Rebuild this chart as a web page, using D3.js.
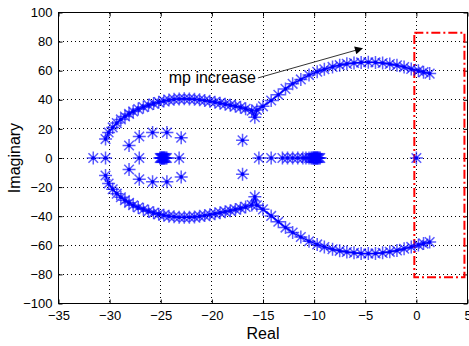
<!DOCTYPE html>
<html>
<head>
<meta charset="utf-8">
<script src="https://cdn.jsdelivr.net/npm/d3@7"></script>
<style>
  body { margin: 0; background: #fff; }
  svg { display: block; font-family: "Liberation Sans", Arial, sans-serif; }
</style>
</head>
<body>
<div id="chart"></div>
<script>
// root locus, upper branch (joined by a line)
const upperRe = [-30.4,-30.1,-29.7,-29.3,-28.9,-28.5,-28.1,-27.7,-27.2,-26.7,-26.2,-25.7,-25.2,-24.7,-24.2,-23.7,-23.2,-22.7,-22.2,-21.7,-21.2,-20.7,-20.2,-19.7,-19.2,-18.7,-18.2,-17.7,-17.2,-16.7,-16.1,-15.8,-15.6,-15.0,-14.2,-13.5,-12.8,-12.1,-11.3,-10.5,-9.7,-9.0,-8.2,-7.5,-6.8,-6.1,-5.4,-4.7,-4.0,-3.3,-2.6,-1.9,-1.2,-0.5,0.2,0.7,1.3];
const upperIm = [13,17.5,21,24,26.5,28.5,30.3,32,33.6,35,36.3,37.4,38.4,39.2,39.8,40.3,40.6,40.7,40.6,40.4,40,39.5,39,38.4,37.7,37,36.3,35.6,34.8,33.8,32.5,28,33,35.5,39.5,43.5,47.5,51,54,57,59.3,61,62.6,63.8,64.7,65.3,65.7,65.8,65.7,65.3,64.6,63.7,62.5,61.2,60,59,58];
// lower branch
const lowerRe = [-30.4,-30.1,-29.7,-29.3,-28.9,-28.5,-28.1,-27.7,-27.2,-26.7,-26.2,-25.7,-25.2,-24.7,-24.2,-23.7,-23.2,-22.7,-22.2,-21.7,-21.2,-20.7,-20.2,-19.7,-19.2,-18.7,-18.2,-17.7,-17.2,-16.7,-16.1,-15.8,-15.6,-15.0,-14.2,-13.5,-12.8,-12.1,-11.3,-10.5,-9.7,-9.0,-8.2,-7.5,-6.8,-6.1,-5.4,-4.7,-4.0,-3.3,-2.6,-1.9,-1.2,-0.5,0.2,0.7,1.3];
const lowerIm = [-12,-17.5,-21.5,-24.5,-27,-29,-30.8,-32.5,-34,-35.3,-36.6,-37.7,-38.6,-39.4,-40,-40.4,-40.7,-40.8,-40.7,-40.5,-40.1,-39.6,-39,-38.3,-37.6,-36.9,-36.2,-35.4,-34.6,-33.6,-32.3,-26.7,-32.5,-35.3,-39.8,-43.8,-47.8,-51.2,-54.3,-57.2,-59.4,-61.2,-62.7,-63.8,-64.6,-65.2,-65.6,-65.7,-65.6,-65.2,-64.5,-63.6,-62.4,-61.1,-59.8,-58.8,-57.8];
// poles on the real axis
const axisRe = [-31.6,-30.4,-27.1,-25.1,-25.0,-24.95,-24.9,-24.85,-24.8,-24.75,-24.7,-24.65,-24.6,-24.5,-24.4,-23.2,-15.4,-14.2,-13.1,-12.6,-12.1,-11.6,-11.1,-10.8,-10.5,-10.3,-10.2,-10.1,-10.05,-10.0,-9.95,-9.9,-9.85,-9.8,-9.75,-9.7,-9.65,-9.6,-9.5,-9.4,0];
// loose complex poles
const innerRe = [-28.1,-27.1,-25.8,-24.4,-23.0,-17.0,-28.1,-27.1,-25.8,-24.4,-23.0,-17.0];
const innerIm = [8.6,14.8,17.5,17.5,14,12.2,-7.9,-14.6,-16.4,-16.4,-13,-11.1];

const xTicks = [-35,-30,-25,-20,-15,-10,-5,0,5];
const yTicks = [-100,-80,-60,-40,-20,0,20,40,60,80,100];
const xLabel = "Real", yLabel = "Imaginary";
const noteText = "mp increase";
const arrowFrom = [-15.5, 55], arrowTo = [-5.3, 75.3];
const boxRe = [-0.2, 4.7], boxIm = [-82, 86];

const W = 469, H = 346;
const margin = {top: 12.5, right: 1.5, bottom: 42.5, left: 58.5};
const width = W - margin.left - margin.right,
      height = H - margin.top - margin.bottom;

const svg = d3.select("#chart").append("svg")
  .attr("width", W).attr("height", H);
const g = svg.append("g")
  .attr("transform", `translate(${margin.left},${margin.top})`);

const x = d3.scaleLinear().domain([-35, 5]).range([0, width]);
const y = d3.scaleLinear().domain([-100, 100]).range([height, 0]);

// dotted grid
g.append("g").attr("class", "grid")
  .selectAll("line.gx").data(xTicks.slice(1, -1)).enter().append("line")
  .attr("x1", d => x(d)).attr("x2", d => x(d))
  .attr("y1", 0).attr("y2", height);
g.select(".grid")
  .selectAll("line.gy").data(yTicks.slice(1, -1)).enter().append("line")
  .attr("x1", 0).attr("x2", width)
  .attr("y1", d => y(d)).attr("y2", d => y(d));
g.selectAll(".grid line")
  .attr("stroke", "#000").attr("stroke-width", 1)
  .attr("stroke-dasharray", "1,3").attr("shape-rendering", "crispEdges");

// axes, ticks point inwards like matlab
function styleAxis(sel) {
  sel.select(".domain").remove();
  sel.selectAll("line").attr("stroke", "#000");
  sel.selectAll("text").attr("fill", "#000").style("font-size", "13px");
}
g.append("g").attr("transform", `translate(0,${height})`)
  .call(d3.axisBottom(x).tickValues(xTicks).tickSize(-4).tickPadding(7))
  .call(styleAxis);
g.append("g")
  .call(d3.axisLeft(y).tickValues(yTicks).tickSize(-4).tickPadding(6))
  .call(styleAxis);
g.append("g")
  .call(d3.axisTop(x).tickValues(xTicks).tickSize(-4).tickFormat(""))
  .call(styleAxis);
g.append("g").attr("transform", `translate(${width},0)`)
  .call(d3.axisRight(y).tickValues(yTicks).tickSize(-4).tickFormat(""))
  .call(styleAxis);

g.append("rect")
  .attr("width", width).attr("height", height)
  .attr("fill", "none").attr("stroke", "#000").attr("stroke-width", 1)
  .attr("shape-rendering", "crispEdges");

// labels
svg.append("text")
  .attr("x", margin.left + x(-15)).attr("y", 339)
  .attr("text-anchor", "middle").style("font-size", "16px")
  .text(xLabel);
svg.append("text")
  .attr("transform", `translate(20,${margin.top + y(0)}) rotate(-90)`)
  .attr("text-anchor", "middle").style("font-size", "16px")
  .text(yLabel);

// red dash-dot box
g.append("rect")
  .attr("x", x(boxRe[0])).attr("y", y(boxIm[1]))
  .attr("width", x(boxRe[1]) - x(boxRe[0]))
  .attr("height", y(boxIm[0]) - y(boxIm[1]))
  .attr("fill", "none").attr("stroke", "#ff0000").attr("stroke-width", 2)
  .attr("stroke-dasharray", "9,3,2,3");

// locus
const star = "M-6.5,0H6.5M0,-6.5V6.5M-4.8,-4.8L4.8,4.8M-4.8,4.8L4.8,-4.8";
const line = d3.line().x(d => x(d[0])).y(d => y(d[1]));
const upper = d3.zip(upperRe, upperIm),
      lower = d3.zip(lowerRe, lowerIm),
      realPts = axisRe.map(v => [v, 0]),
      innerPts = d3.zip(innerRe, innerIm);
const allPts = upper.concat(lower, realPts, innerPts);

g.selectAll(".star").data(allPts).enter().append("path")
  .attr("class", "star")
  .attr("transform", d => `translate(${x(d[0])},${y(d[1])})`)
  .attr("d", star)
  .attr("stroke", "#0000ff").attr("stroke-opacity", 0.65)
  .attr("stroke-width", 1.5).attr("fill", "none");

[upper, lower].forEach(br => {
  g.append("path").datum(br)
    .attr("d", line)
    .attr("fill", "none").attr("stroke", "#0000ff").attr("stroke-width", 1.4);
});

g.selectAll(".dot").data(allPts).enter().append("circle")
  .attr("class", "dot")
  .attr("cx", d => x(d[0])).attr("cy", d => y(d[1]))
  .attr("r", 1.8).attr("fill", "#0000ff");

// annotation
svg.append("defs").append("marker")
  .attr("id", "head").attr("viewBox", "0 0 10 10")
  .attr("refX", 9).attr("refY", 5)
  .attr("markerWidth", 13).attr("markerHeight", 8)
  .attr("markerUnits", "userSpaceOnUse")
  .attr("orient", "auto")
  .append("path").attr("d", "M0,0L10,5L0,10z").attr("fill", "#000");
g.append("line")
  .attr("x1", x(arrowFrom[0])).attr("y1", y(arrowFrom[1]))
  .attr("x2", x(arrowTo[0])).attr("y2", y(arrowTo[1]))
  .attr("stroke", "#333").attr("stroke-width", 1)
  .attr("marker-end", "url(#head)");
g.append("text")
  .attr("x", x(arrowFrom[0]) - 2).attr("y", y(arrowFrom[1]) + 5)
  .attr("text-anchor", "end").style("font-size", "16px")
  .text(noteText);
</script>
</body>
</html>
